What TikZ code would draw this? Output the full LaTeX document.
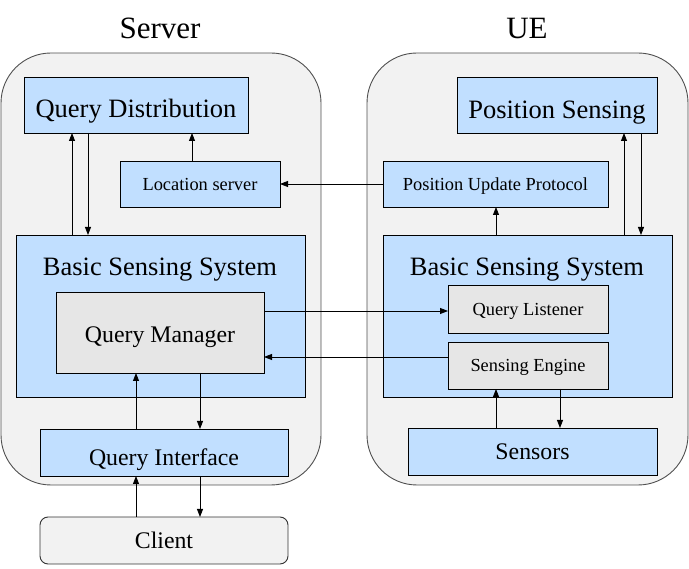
\documentclass[tikz,border=0pt]{standalone}
\usepackage{fontspec}
\setmainfont{Liberation Serif}
\usetikzlibrary{arrows.meta}
\definecolor{boxblue}{RGB}{193,223,255}
\definecolor{contgray}{RGB}{242,242,242}
\definecolor{innergray}{RGB}{230,230,230}
\definecolor{contline}{RGB}{80,80,80}
\tikzset{
  cont/.style={draw=contline, fill=contgray, line width=0.9pt, rounded corners=50pt, inner sep=0pt, outer sep=0pt},
  bluebox/.style={draw=black, fill=boxblue, line width=0.9pt, inner sep=0pt, outer sep=0pt},
  graybox/.style={draw=black, fill=innergray, line width=0.9pt, inner sep=0pt, outer sep=0pt},
  clientbox/.style={draw=black!80, fill=contgray, line width=0.9pt, rounded corners=8pt, inner sep=0pt, outer sep=0pt},
  bigtxt/.style={font=\fontsize{26.5}{30}\selectfont, text height=17.5pt, text depth=0pt},
  midtxt/.style={font=\fontsize{23.8}{27}\selectfont, text height=15.7pt, text depth=0pt},
  smalltxt/.style={font=\fontsize{18.4}{21}\selectfont, text height=12.1pt, text depth=0pt},
  titletxt/.style={font=\fontsize{31}{34}\selectfont, text height=20.5pt, text depth=0pt},
  arr/.style={draw=black, line width=0.9pt, -{Triangle[length=8pt,width=6pt]}},
}
\begin{document}
\begin{tikzpicture}[x=1pt,y=-1pt]
\useasboundingbox (0,0) rectangle (689,569);
% titles
\node[titletxt] (servertitle) at (160,28.5) {Server};
\node[titletxt] (uetitle) at (527,28.5) {UE};
% containers
\node[cont, minimum width=320pt, minimum height=432pt] (servercont) at (161,269) {};
\node[cont, minimum width=321pt, minimum height=432pt] (uecont) at (527.5,269) {};
% server side
\node[bluebox, bigtxt, text height=25.5pt, minimum width=224pt, minimum height=56pt] (qd) at (136,105) {Query Distribution};
\node[bluebox, smalltxt, minimum width=160pt, minimum height=46pt] (ls) at (200,184) {Location server};
\node[bluebox, minimum width=289pt, minimum height=162pt] (sbss) at (160.5,316) {};
\node[bigtxt] (sbsslabel) at (160,267) {Basic Sensing System};
\node[graybox, midtxt, text height=20.7pt, minimum width=208pt, minimum height=81pt] (qm) at (160,332.5) {Query Manager};
\node[bluebox, midtxt, text height=27pt, minimum width=248pt, minimum height=47pt] (qi) at (164,452.5) {Query Interface};
\node[clientbox, midtxt, minimum width=248pt, minimum height=47pt] (client) at (164,540.5) {Client};
% UE side
\node[bluebox, bigtxt, text height=26.5pt, minimum width=200pt, minimum height=56pt] (ps) at (557,105) {Position Sensing};
\node[bluebox, smalltxt, minimum width=225pt, minimum height=46pt] (pup) at (495.5,184) {Position Update Protocol};
\node[bluebox, minimum width=289pt, minimum height=162pt] (ubss) at (527.5,316) {};
\node[bigtxt] (ubsslabel) at (527,267) {Basic Sensing System};
\node[graybox, smalltxt, minimum width=160pt, minimum height=48pt] (ql) at (528,309) {Query Listener};
\node[graybox, smalltxt, minimum width=160pt, minimum height=47pt] (se) at (528,365.5) {Sensing Engine};
\node[bluebox, midtxt, minimum width=249pt, minimum height=47pt] (sensors) at (532.5,451.5) {Sensors};
% server arrows
\draw[arr] (sbss.north -| 72,0) -- (qd.south -| 72,0);
\draw[arr] (qd.south -| 88,0) -- (sbss.north -| 88,0);
\draw[arr] (ls.north -| 192,0) -- (qd.south -| 192,0);
\draw[arr] (qi.north -| 136,0) -- (qm.south -| 136,0);
\draw[arr] (qm.south -| 200,0) -- (qi.north -| 200,0);
\draw[arr] (client.north -| 136,0) -- (qi.south -| 136,0);
\draw[arr] (qi.south -| 200,0) -- (client.north -| 200,0);
% cross arrows
\draw[arr] (pup.west) -- (ls.east);
\draw[arr] (qm.east |- 0,311) -- (ql.west |- 0,311);
\draw[arr] (se.west |- 0,357) -- (qm.east |- 0,357);
% UE arrows
\draw[arr] (ubss.north -| 496,0) -- (pup.south -| 496,0);
\draw[arr] (ubss.north -| 624,0) -- (ps.south -| 624,0);
\draw[arr] (ps.south -| 641,0) -- (ubss.north -| 641,0);
\draw[arr] (sensors.north -| 496,0) -- (se.south -| 496,0);
\draw[arr] (se.south -| 560,0) -- (sensors.north -| 560,0);
\end{tikzpicture}
\end{document}
